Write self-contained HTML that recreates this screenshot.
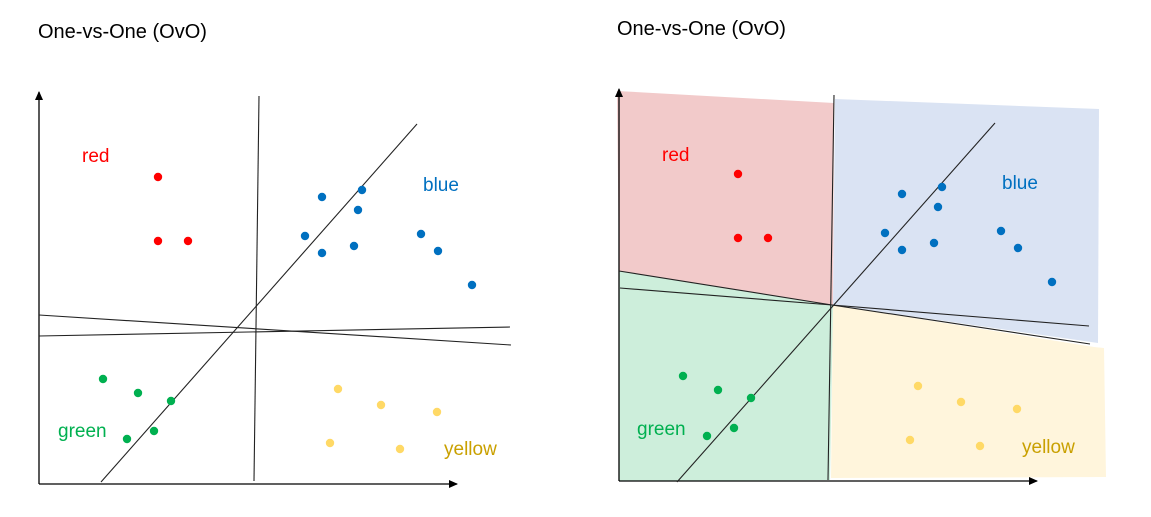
<!DOCTYPE html>
<html><head><meta charset="utf-8"><style>
body{margin:0;background:#fff;width:1151px;height:517px;overflow:hidden;font-family:"Liberation Sans",Calibri,sans-serif}
svg{display:block}
</style></head><body>
<svg id="c" width="1151" height="517">
<defs><marker id="ar" markerWidth="10" markerHeight="10" refX="8" refY="4" orient="auto" markerUnits="userSpaceOnUse"><path d="M0,0 L9,4 L0,8 Z" fill="#000"/></marker></defs>
<text x="38" y="38" font-size="20">One-vs-One (OvO)</text>
<text x="617" y="35" font-size="20">One-vs-One (OvO)</text>
</svg>
<script>
const redX=[119,119,149], redY=[307,243,243];
const blueX=[283,323,319,266,283,315,382,399,433], blueY=[287,294,274,248,231,238,250,233,199];
const greenX=[64,99,132,88,115], greenY=[105,91,83,45,115-62];
const yellowX=[299,342,398,291,361], yellowY=[95,79,72,41,35];
const svg=document.getElementById('c');
const NS='http://www.w3.org/2000/svg';
function mk(tag,attrs,name){const e=document.createElementNS(NS,tag);for(const k in attrs)e.setAttribute(k,attrs[k]);svg.appendChild(e);return e;}
function panel(ox,oy,p,shaded){
  const sx=v=>ox+v, sy=v=>oy-v;
  if(shaded){
    mk('polygon',{points:'617,91 834,103 833,305 619,271',fill:'#f2caca'},'red-region');
    mk('polygon',{points:'835,99 1099,109 1098,343 833,305',fill:'#dae3f3'},'blue-region');
    mk('polygon',{points:'833,305 1094,347 1104,348 1106,477 831,478',fill:'#fff5dc'},'yellow-region');
    mk('polygon',{points:'619,271 833,305 830,480 619,481',fill:'#cdeedb'},'green-region');
  }
  mk('line',{x1:sx(0),y1:sy(0),x2:sx(0),y2:sy(392),stroke:'#000','stroke-width':1.3,'marker-end':'url(#ar)'},'y-axis');
  mk('line',{x1:sx(0),y1:sy(0),x2:sx(418),y2:sy(0),stroke:'#000','stroke-width':1.3,'marker-end':'url(#ar)'},'x-axis');
  p.lines.forEach((l,i)=>mk('polyline',{points:l.map(q=>q.join(',')).join(' '),fill:'none',stroke:'#222','stroke-width':1.1},'boundary-line-'+(i+1)));
  const sets=[[redX,redY,'#ff0000','red'],[blueX,blueY,'#0070c0','blue'],[greenX,greenY,'#00b050','green'],[yellowX,yellowY,'#ffd966','yellow']];
  sets.forEach(s=>{for(let i=0;i<s[0].length;i++){mk('circle',{cx:sx(s[0][i]),cy:sy(s[1][i]),r:4.2,fill:s[2]},s[3]+'-point');}});
  p.labels.forEach(l=>{const t=mk('text',{x:l[0],y:l[1],'font-size':19,fill:l[2]},l[3]+'-label');t.textContent=l[3];});
}
panel(39,484,{lines:[[[259,96],[254,481]],[[101,482],[417,124]],[[39,315],[511,345]],[[39,336],[510,327]]],
 labels:[[82,162,'#ff0000','red'],[423,191,'#0070c0','blue'],[58,437,'#00b050','green'],[444,455,'#c9a000','yellow']]},false);
panel(619,481,{lines:[[[834,95],[828,480]],[[677,482],[995,123]],[[620,288],[832,305],[1089,326]],[[619,271],[832,305],[1090,344]]],
 labels:[[662,161,'#ff0000','red'],[1002,189,'#0070c0','blue'],[637,435,'#00b050','green'],[1022,453,'#c9a000','yellow']]},true);
</script>
</body></html>
